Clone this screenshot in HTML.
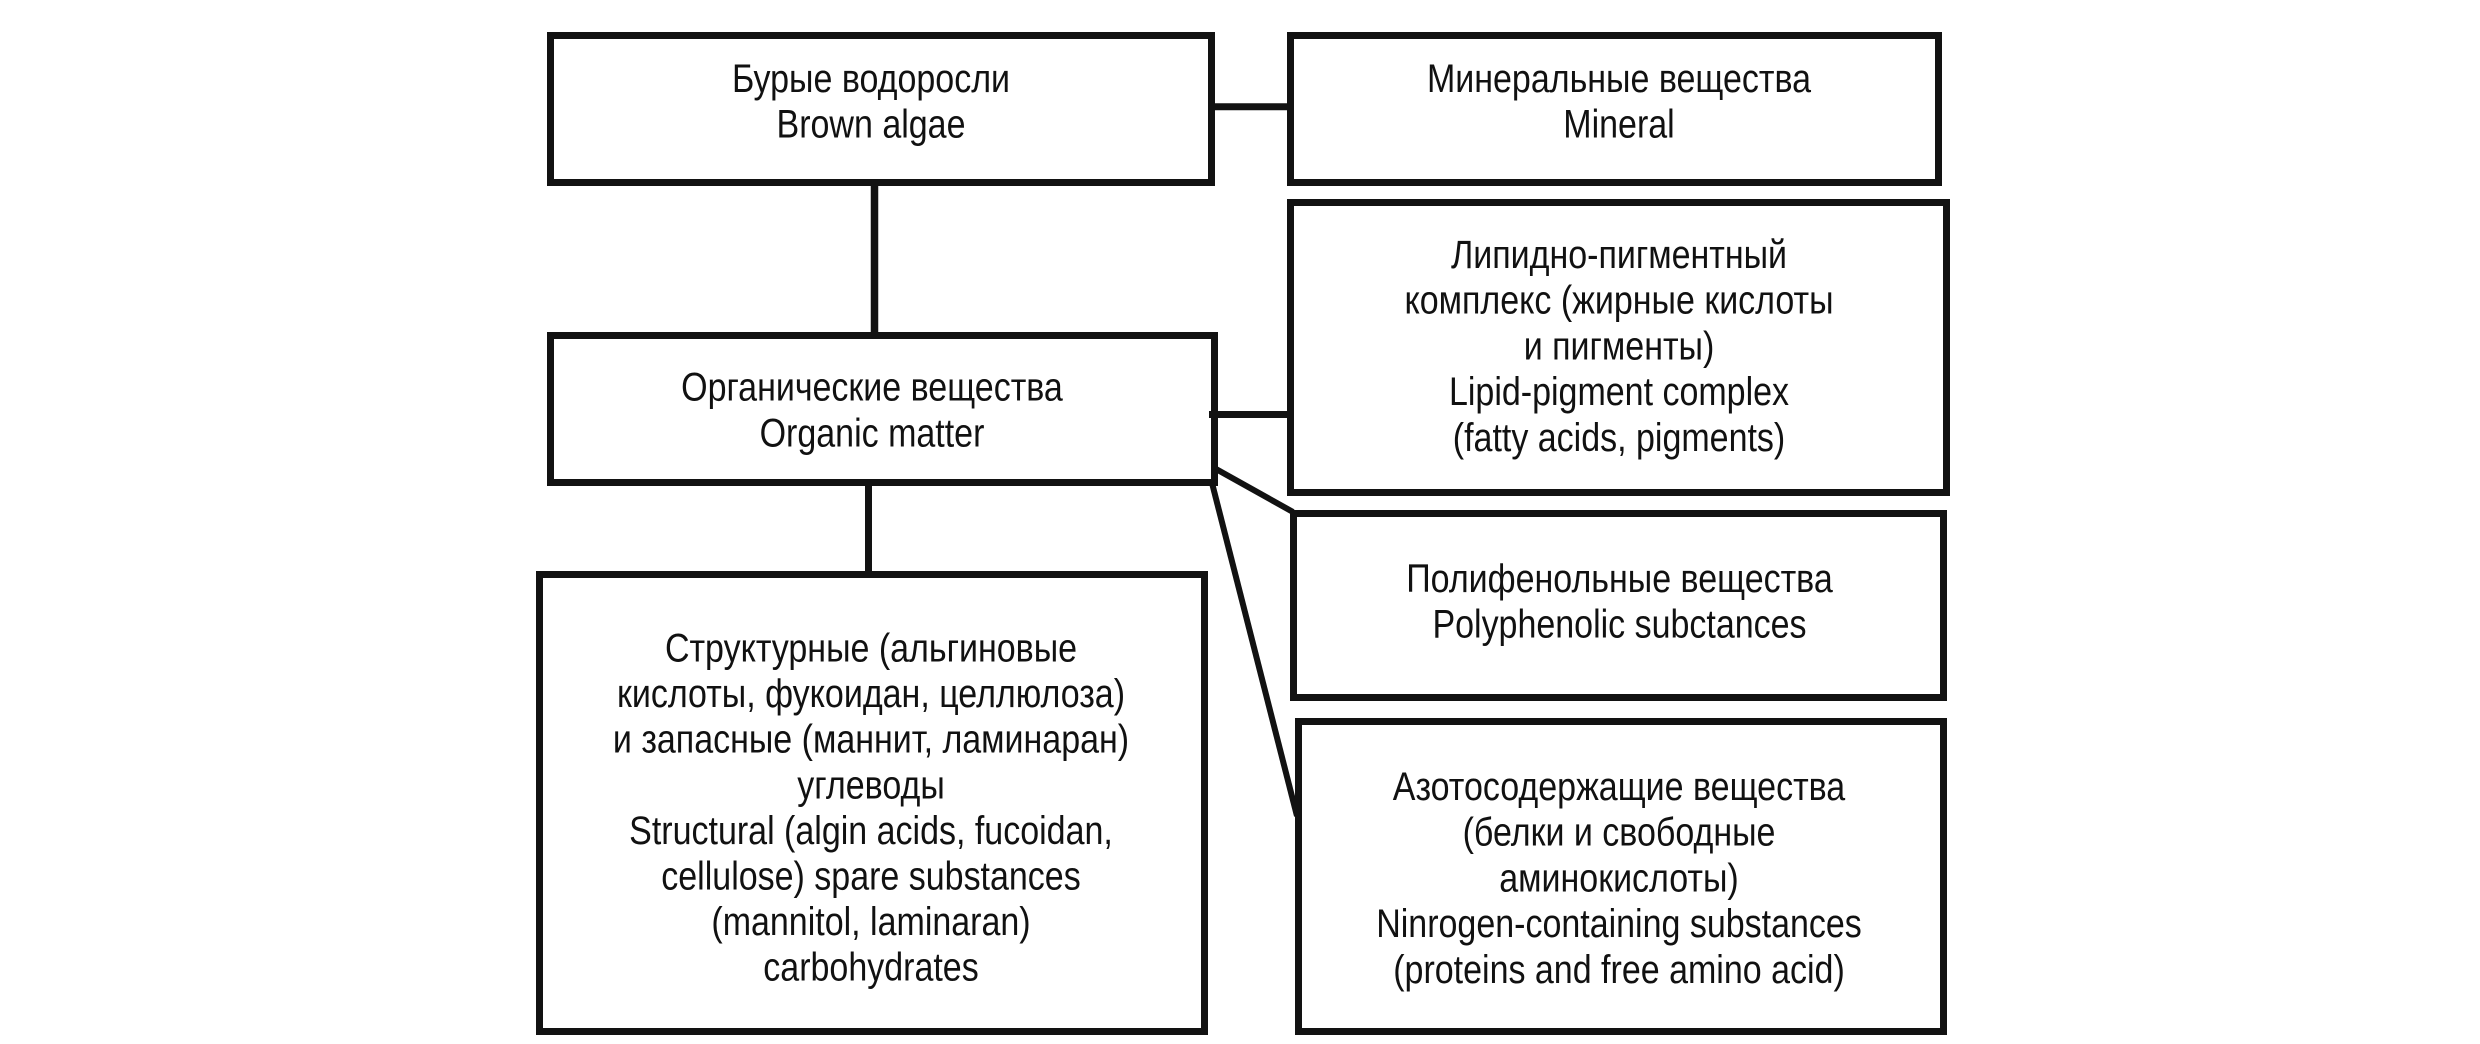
<!DOCTYPE html>
<html>
<head>
<meta charset="utf-8">
<style>
  html, body { margin: 0; padding: 0; background: #ffffff; }
  svg { display: block; }
  text { font-family: "Liberation Sans", "DejaVu Sans", sans-serif; font-size: 40px; fill: #111111; }
</style>
</head>
<body>
<svg width="2480" height="1044" viewBox="0 0 2480 1044" xmlns="http://www.w3.org/2000/svg">
  <rect x="0" y="0" width="2480" height="1044" fill="#ffffff"/>

  <!-- Boxes -->
  <g fill="none" stroke="#121212" stroke-width="7" stroke-linejoin="miter">
    <rect x="550.5" y="35.5" width="661" height="147"/>
    <rect x="1290.5" y="35.5" width="648" height="147"/>
    <rect x="550.5" y="335.5" width="664" height="147"/>
    <rect x="1290.5" y="202.5" width="656" height="290"/>
    <rect x="1293.5" y="513.5" width="650" height="184"/>
    <rect x="1298.5" y="721.5" width="645" height="310"/>
    <rect x="539.5" y="574.5" width="665" height="457"/>
  </g>

  <!-- Connectors -->
  <g stroke="#121212" fill="none">
    <line x1="1213" y1="106.7" x2="1289" y2="106.7" stroke-width="7"/>
    <line x1="874.5" y1="184" x2="874.5" y2="339" stroke-width="7.5"/>
    <line x1="1209" y1="414.5" x2="1289" y2="414.5" stroke-width="7"/>
    <line x1="868.5" y1="484" x2="868.5" y2="574" stroke-width="7"/>
    <line x1="1216" y1="469" x2="1293" y2="512" stroke-width="6"/>
    <line x1="1212" y1="483" x2="1297" y2="816" stroke-width="6"/>
  </g>

  <!-- Brown algae -->
  <g transform="translate(871 0) scale(0.85 1)" text-anchor="middle">
    <text x="0" y="92">Бурые водоросли</text>
    <text x="0" y="137.5">Brown algae</text>
  </g>

  <!-- Mineral -->
  <g transform="translate(1619 0) scale(0.85 1)" text-anchor="middle">
    <text x="0" y="92">Минеральные вещества</text>
    <text x="0" y="137.5">Mineral</text>
  </g>

  <!-- Organic -->
  <g transform="translate(872 0) scale(0.85 1)" text-anchor="middle">
    <text x="0" y="400.5">Органические вещества</text>
    <text x="0" y="446.5">Organic matter</text>
  </g>

  <!-- Lipid -->
  <g transform="translate(1619 0) scale(0.85 1)" text-anchor="middle">
    <text x="0" y="268">Липидно-пигментный</text>
    <text x="0" y="313.7">комплекс (жирные кислоты</text>
    <text x="0" y="359.4">и пигменты)</text>
    <text x="0" y="405.1">Lipid-pigment complex</text>
    <text x="0" y="450.8">(fatty acids, pigments)</text>
  </g>

  <!-- Polyphenolic -->
  <g transform="translate(1619.5 0) scale(0.85 1)" text-anchor="middle">
    <text x="0" y="592">Полифенольные вещества</text>
    <text x="0" y="637.7">Polyphenolic subctances</text>
  </g>

  <!-- Structural -->
  <g transform="translate(871 0) scale(0.85 1)" text-anchor="middle">
    <text x="0" y="661.5">Структурные (альгиновые</text>
    <text x="0" y="707.1">кислоты, фукоидан, целлюлоза)</text>
    <text x="0" y="752.7">и запасные (маннит, ламинаран)</text>
    <text x="0" y="798.3">углеводы</text>
    <text x="0" y="843.9">Structural (algin acids, fucoidan,</text>
    <text x="0" y="889.5">cellulose) spare substances</text>
    <text x="0" y="935.1">(mannitol, laminaran)</text>
    <text x="0" y="980.7">carbohydrates</text>
  </g>

  <!-- Nitrogen -->
  <g transform="translate(1619 0) scale(0.85 1)" text-anchor="middle">
    <text x="0" y="800">Азотосодержащие вещества</text>
    <text x="0" y="845.7">(белки и свободные</text>
    <text x="0" y="891.4">аминокислоты)</text>
    <text x="0" y="937.1">Ninrogen-containing substances</text>
    <text x="0" y="982.8">(proteins and free amino acid)</text>
  </g>
</svg>
</body>
</html>
